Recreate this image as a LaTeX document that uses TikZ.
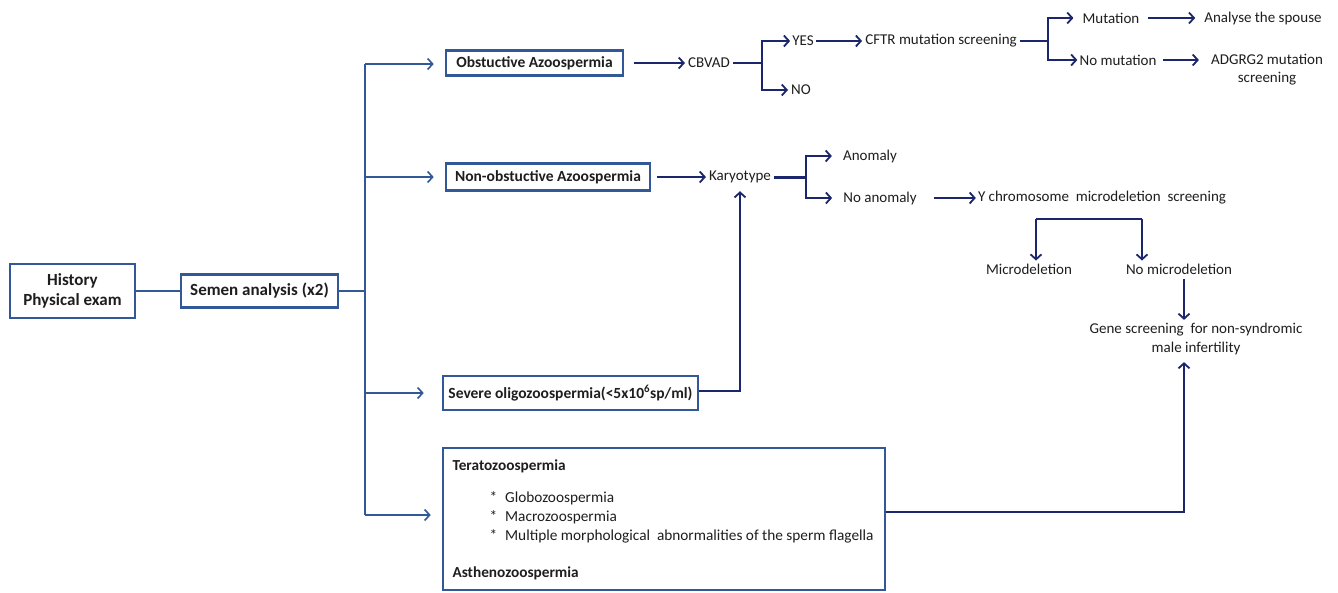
\documentclass[tikz,border=0pt]{standalone}
\usepackage{fontspec}
\setmainfont{Carlito}
\usetikzlibrary{arrows.meta}
\definecolor{bblue}{RGB}{50,88,152}
\definecolor{navy}{RGB}{28,38,108}
\definecolor{txt}{RGB}{30,30,30}
\begin{document}
\begin{tikzpicture}[x=1pt,y=-1pt,
  font=\fontsize{15}{18}\selectfont, text=txt,
  box/.style={draw=bblue, line width=2.6pt, inner sep=0pt, font=\fontsize{15.5}{18}\selectfont\bfseries},
  lbl/.style={inner sep=3pt},
  bl/.style={draw=bblue, line width=1.6pt},
  blA/.style={bl, -{Straight Barb[length=5pt,width=11pt,line width=1.6pt]}},
  nv/.style={draw=navy, line width=1.8pt},
  nvA/.style={nv, -{Straight Barb[length=5pt,width=11pt,line width=1.8pt]}}]
\useasboundingbox (0,0) rectangle (1338,592);
\fill[white] (0,0) rectangle (1338,592);

% boxes
\node[box, minimum width=125pt, minimum height=54pt, align=center, font=\fontsize{17}{19.5}\selectfont\bfseries] (hist) at (72.5,291) {History\\Physical exam};
\node[box, minimum width=157pt, minimum height=33pt, font=\fontsize{17}{19}\selectfont\bfseries] (semen) at (259.5,291) {Semen analysis (x2)};
\node[box, minimum width=177pt, minimum height=25pt] (obst) at (534.5,63) {Obstuctive Azoospermia};
\node[box, minimum width=204pt, minimum height=27pt] (nonobst) at (548,177) {Non-obstuctive Azoospermia};
\node[box, minimum width=255pt, minimum height=34pt] (severe) at (570.5,393) {Severe oligozoospermia(<5x10\textsuperscript{6}sp/ml)};
\node[draw=bblue, line width=2.6pt, minimum width=442pt, minimum height=142pt, inner sep=0pt] (tera) at (664,519) {};
\node[anchor=west, font=\fontsize{15.3}{18}\selectfont\bfseries] (t1) at (449,466) {Teratozoospermia};
\node[anchor=west, align=left, font=\fontsize{15.3}{19}\selectfont] (t2) at (486,517) {*\hspace{8pt}Globozoospermia\\*\hspace{8pt}Macrozoospermia\\*\hspace{8pt}Multiple morphological\ \ abnormalities of the sperm flagella};
\node[anchor=west, font=\fontsize{15.3}{18}\selectfont\bfseries] (t3) at (449,573) {Asthenozoospermia};

% text nodes
\node[lbl] (cbvad) at (709,63) {CBVAD};
\node[lbl, inner sep=2pt] (yes) at (803,41) {YES};
\node[lbl] (no) at (801,90) {NO};
\node[lbl] (cftr) at (941,41) {CFTR mutation screening};
\node[lbl] (mut) at (1111,18) {Mutation};
\node[lbl] (spouse) at (1263,18) {Analyse the spouse};
\node[lbl, inner sep=2pt] (nomut) at (1118,60) {No mutation};
\node[lbl, align=center, font=\fontsize{15}{18}\selectfont] (adgrg) at (1267,70) {ADGRG2 mutation\\screening};
\node[lbl] (karyo) at (740,177) {Karyotype};
\node[lbl] (anom) at (870,156) {Anomaly};
\node[lbl] (noanom) at (880,198) {No anomaly};
\node[lbl, inner sep=2pt] (ychrom) at (1102,198) {Y chromosome\ \ microdeletion\ \ screening};
\node[lbl] (microdel) at (1029,269) {Microdeletion};
\node[lbl] (nomicro) at (1179,269) {No microdeletion};
\node[lbl, align=center, font=\fontsize{15}{19}\selectfont] (gene) at (1196,339) {Gene screening\ \ for non-syndromic\\male infertility};

% left (blue) connectors
\coordinate (bus) at (365,291);
\coordinate (bt) at (365,64);
\coordinate (bb) at (365,515);
\draw[bl] (hist.east) -- (semen.west);
\draw[bl] (semen.east) -- (bus);
\draw[bl] (bt) -- (bb);
\draw[blA] (bt) -- ([xshift=-11pt]obst.west |- bt);
\draw[blA] (bt |- nonobst.west) -- ([xshift=-11pt]nonobst.west);
\draw[blA] (bt |- severe.west) -- ([xshift=-18pt]severe.west);
\draw[blA] (bb) -- ([xshift=-11pt]tera.west |- bb);

% right (navy) connectors
\draw[nvA] ([xshift=10pt]obst.east) -- (cbvad.west);
\coordinate (j1) at (762,63);
\draw[nv] (cbvad.east) -- (j1);
\draw[nvA] (j1) |- (yes.west);
\draw[nvA] (j1) |- (no.west);
\draw[nvA] (yes.east) -- (cftr.west);
\coordinate (j2) at (1048,41);
\draw[nv] (cftr.east) -- (j2);
\draw[nvA] (j2) |- ([xshift=-6pt]mut.west);
\draw[nvA] (j2) |- (nomut.west);
\draw[nvA] ([xshift=5pt]mut.east) -- ([xshift=-6pt]spouse.west);
\draw[nvA] ([xshift=4pt]nomut.east) -- ([xshift=-9pt]nomut.east -| adgrg.west);

\draw[nvA] ([xshift=6pt]nonobst.east) -- (karyo.west);
\coordinate (j3) at (806,177);
\draw[navy, line width=3pt] (karyo.east) -- (j3);
\draw[nvA] (j3) |- ([xshift=-8pt]anom.west);
\draw[nvA] (j3) |- ([xshift=-8pt]noanom.west);
\draw[nvA] ([xshift=14pt]noanom.east) -- (ychrom.west);

\coordinate (b1) at (1036,219);
\coordinate (b2) at (1142,219);
\draw[nv] (b1) -- (b2);
\draw[nvA] (b1) -- (b1 |- microdel.north);
\draw[nvA] (b2) -- (b2 |- nomicro.north);
\coordinate (gx) at (1184,0);
\draw[nvA] ([yshift=-2pt]gx |- nomicro.south) -- (gx |- gene.north);
\draw[nvA] ([yshift=7pt]tera.east) -| ([yshift=-4pt]gx |- gene.south);
\draw[nvA] ([yshift=2pt]severe.east) -| ([yshift=-5pt]karyo.south);
\end{tikzpicture}
\end{document}
